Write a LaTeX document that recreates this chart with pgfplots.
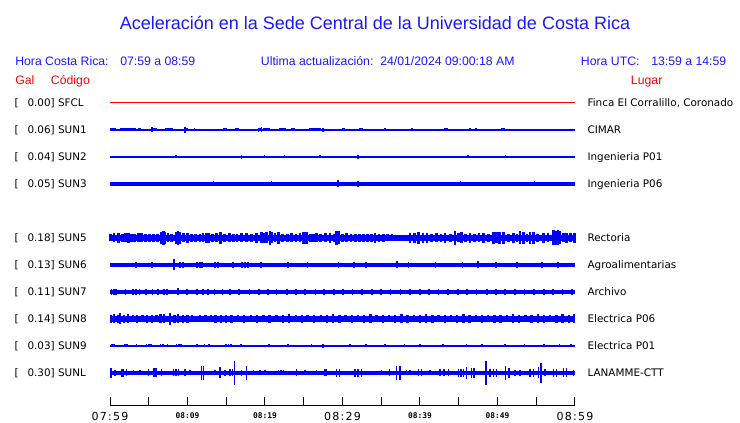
\documentclass[border=0pt]{standalone}
\usepackage{pgfplots}
\pgfplotsset{compat=1.18}
\usepackage{fontspec}
\setmainfont{DejaVu Sans}
\newfontfamily\hel{Liberation Sans}
\newfontfamily\dvw[LetterSpace=11]{DejaVu Sans}
\newfontfamily\dvm{DejaVu Sans Mono}
\definecolor{tb}{RGB}{0,0,255}
\definecolor{txb}{RGB}{25,25,255}
\definecolor{tr}{RGB}{255,0,0}
\newcommand\lf{\fontsize{7.8pt}{9pt}\selectfont}
\newcommand\hf{\hel\fontsize{9.2pt}{11pt}\selectfont}
\newcommand\tlb[1]{{\dvw\fontsize{8.3pt}{10pt}\selectfont #1}}
\newcommand\tls[1]{\raisebox{1.5pt}{\dvm\bfseries\fontsize{5.9pt}{7pt}\selectfont #1}}
\pgfplotsset{spk/.style={draw=none, mark=none, forget plot,
  error bars/.cd, y dir=both, y explicit, error mark=none,
  error bar style={draw=tb, line width=#1}}}
\begin{document}
\begin{tikzpicture}
\begin{scope}[x=0.75pt,y=-0.75pt]
\useasboundingbox (0,0) rectangle (740,423);
\node[anchor=base, text=txb, inner sep=0] at (375,29.8) {\hel\fontsize{13.5pt}{16pt}\selectfont Aceleración en la Sede Central de la Universidad de Costa Rica};
\begin{scope}[every node/.style={anchor=base west, inner sep=0, text=txb}]
\node at (15,66) {\hf Hora Costa Rica:};
\node at (120,66) {\hf 07:59 a 08:59};
\node at (260.7,66) {\hf Ultima actualización:};
\node at (380,66) {\hf 24/01/2024 09:00:18 AM};
\node at (580.7,66) {\hf Hora UTC:};
\node at (651,66) {\hf 13:59 a 14:59};
\node[text=tr] at (15,85) {\hf Gal};
\node[text=tr] at (50.7,85) {\hf Código};
\node[text=tr] at (630.7,85) {\hf Lugar};
\end{scope}
\begin{scope}[every node/.style={anchor=base west, inner sep=0, text=black}]
\node at (14.3,107) {\lf [}; \node at (27.3,107) {\lf 0.00] SFCL}; \node at (587.3,107) {\lf Finca El Corralillo, Coronado};
\node at (14.3,134) {\lf [}; \node at (27.3,134) {\lf 0.06] SUN1}; \node at (587.3,134) {\lf CIMAR};
\node at (14.3,161) {\lf [}; \node at (27.3,161) {\lf 0.04] SUN2}; \node at (587.3,161) {\lf Ingenieria P01};
\node at (14.3,188) {\lf [}; \node at (27.3,188) {\lf 0.05] SUN3}; \node at (587.3,188) {\lf Ingenieria P06};
\node at (14.3,242) {\lf [}; \node at (27.3,242) {\lf 0.18] SUN5}; \node at (587.3,242) {\lf Rectoria};
\node at (14.3,269) {\lf [}; \node at (27.3,269) {\lf 0.13] SUN6}; \node at (587.3,269) {\lf Agroalimentarias};
\node at (14.3,296) {\lf [}; \node at (27.3,296) {\lf 0.11] SUN7}; \node at (587.3,296) {\lf Archivo};
\node at (14.3,323) {\lf [}; \node at (27.3,323) {\lf 0.14] SUN8}; \node at (587.3,323) {\lf Electrica P06};
\node at (14.3,350) {\lf [}; \node at (27.3,350) {\lf 0.03] SUN9}; \node at (587.3,350) {\lf Electrica P01};
\node at (14.3,377) {\lf [}; \node at (27.3,377) {\lf 0.30] SUNL}; \node at (587.3,377) {\lf LANAMME-CTT};
\end{scope}
\end{scope}
\begin{axis}[at={(82.5pt,-304.5pt)}, anchor=south west, scale only axis,
  width=348.75pt, height=235.5pt, xmin=0, xmax=60, ymin=-406, ymax=-92,
  clip=false, axis x line*=bottom, axis y line=none,
  axis line style={black, line width=0.75pt},
  xtick={0,5,...,60}, xtick align=inside, major tick length=6.75pt,
  every tick/.style={black, line width=0.75pt},
  xticklabels={\tlb{07:59},,\tls{08:09},,\tls{08:19},,\tlb{08:29},,\tls{08:39},,\tls{08:49},,\tlb{08:59}},
  xticklabel style={anchor=base, yshift=-10.6pt, inner sep=0}]
% SFCL
\addplot[tr, line width=0.75pt] coordinates {(0,-103) (60,-103)};
% SUN1
\addplot[tb, line width=0.9pt] coordinates {(0,-130) (60,-130)};
\addplot[spk=1.2pt] table[row sep=\\, x index=0, y expr=-130, y error index=1] {
0.06 1.5\\ 0.26 1.5\\ 0.45 1.5\\ 0.65 1.5\\ 1.07 1\\ 1.42 1.5\\ 1.68 1.5\\ 1.94 1.5\\ 2.19 1.5\\ 2.45 1.5\\
2.71 1.5\\ 2.97 1.5\\ 3.23 1.5\\ 3.74 1.5\\ 3.87 1.5\\ 4.86 1\\ 5.42 2.5\\ 5.68 1.5\\ 5.94 1.5\\ 6.36 1\\
6.67 1\\ 7.23 1.5\\ 7.48 1.5\\ 7.74 1.5\\ 8.0 1.5\\ 8.39 1\\ 8.68 1\\ 9.68 3\\ 9.94 1.5\\ 10.1 1\\
10.88 1.5\\ 11.26 1\\ 11.83 1\\ 12.68 1\\ 13.42 1\\ 14.19 1\\ 14.65 1.5\\ 14.84 1.5\\ 15.03 1.5\\ 15.7 1\\
16.26 1.5\\ 16.52 1.5\\ 18.41 1\\ 19.16 2\\ 19.35 1.5\\ 19.55 2.5\\ 19.81 1.5\\ 20.0 1.5\\ 20.26 1.5\\ 20.52 1.5\\
20.99 1\\ 21.42 1\\ 21.87 1.5\\ 22.06 1.5\\ 22.32 1.5\\ 22.58 1.5\\ 23.48 1.5\\ 23.74 1.5\\ 24.3 1\\ 25.29 1\\
25.81 1.5\\ 26.06 1.5\\ 26.32 1.5\\ 26.58 1.5\\ 26.84 1.5\\ 27.1 1.5\\ 27.52 2\\ 28.17 1\\ 28.52 1\\ 30.06 1.5\\
30.26 1.5\\ 30.88 1\\ 32.26 1.5\\ 32.5 1.5\\ 33.81 1\\ 35.48 1.5\\ 37.16 1\\ 38.97 1.5\\ 41.29 1\\ 43.23 1.5\\ 43.48 1.5\\
46.45 1.5\\ 47.23 1.5\\ 49.29 1\\ 50.58 1.5\\ 50.84 1.5\\ 53.03 1\\ 55.48 1\\ 58.06 1\\ 59.6 1\\
};
% SUN2
\addplot[tb, line width=1pt] coordinates {(0,-157) (60,-157)};
\addplot[spk=1pt] table[row sep=\\, x index=0, y expr=-157, y error index=1] {
8.52 1.5\\ 16.94 2\\ 19.9 1.5\\ 22.49 1.5\\ 27.1 1.5\\ 32.0 2\\ 46.2 1.5\\ 51.0 1.5\\
};
% SUN3
\addplot[tb, line width=2.6pt] coordinates {(0,-184) (60,-184)};
\addplot[spk=1pt] table[row sep=\\, x index=0, y expr=-184, y error index=1] {
13.33 2.5\\ 20.8 2.5\\ 29.42 3.5\\ 32.0 3\\ 45.2 2.5\\ 54.8 2.5\\
};
% SUN5
\addplot[tb, line width=4.8pt] coordinates {(0,-238) (60,-238)};
\addplot[spk=2pt] table[row sep=\\, x index=0, y expr=-238, y error index=1] {
0.06 3.5\\ 0.5 4.5\\ 1.07 5\\ 1.6 4\\ 2.0 4.5\\ 2.36 5\\ 2.8 4\\ 3.2 4\\ 3.66 4.5\\ 4.09 4.5\\
4.6 4\\ 5.1 4\\ 5.59 4.3\\ 6.1 4\\ 6.67 6\\ 6.88 7.3\\ 7.1 6\\ 7.5 4.5\\ 7.96 4\\ 8.52 6\\
8.77 7.3\\ 9.03 6\\ 9.5 4.5\\ 9.98 5\\ 10.5 4\\ 11.0 4\\ 11.61 4\\ 12.0 4.5\\ 12.39 5\\ 12.68 5\\
13.2 4\\ 13.7 4.5\\ 14.28 6\\ 14.8 4\\ 15.4 4.5\\ 15.91 4\\ 16.4 4\\ 17.0 4.5\\ 17.64 4.5\\ 18.3 4\\
18.93 5\\ 19.57 5.5\\ 19.9 5\\ 20.22 5.5\\ 20.65 6.7\\ 20.86 5.5\\ 21.3 4.5\\ 21.72 6\\ 22.3 4\\ 22.9 4\\
23.44 4.5\\ 24.0 4\\ 24.5 4.5\\ 24.95 6\\ 25.38 6\\ 25.9 4\\ 26.3 4\\ 26.67 4.5\\ 27.2 4\\ 27.8 4.5\\
28.39 5\\ 28.9 4\\ 29.25 7\\ 29.46 6.5\\ 30.0 4\\ 30.54 4.5\\ 31.1 4\\ 31.7 4\\ 32.2 4\\ 32.69 4\\
33.2 4\\ 33.7 4\\ 34.19 5\\ 34.7 4\\ 35.27 4\\ 35.8 3.5\\ 36.4 3.5\\ 38.7 5\\ 39.3 5\\ 39.8 6\\
40.4 5\\ 40.9 5\\ 41.5 4\\ 42.15 4.5\\ 42.7 4\\ 43.23 5\\ 43.9 4\\ 44.52 7\\ 45.0 4.5\\ 45.38 5.5\\
45.9 4\\ 46.45 5\\ 47.0 4\\ 47.6 4.5\\ 48.17 5\\ 48.8 4\\ 49.46 6\\ 49.9 5.5\\ 50.3 6\\ 50.75 6\\
51.4 4\\ 52.04 5\\ 52.5 4\\ 52.9 6.5\\ 53.33 6\\ 53.8 4\\ 54.19 6\\ 54.62 6\\ 55.2 4\\ 55.91 5\\
56.5 4.5\\ 57.2 7.5\\ 57.5 7\\ 57.8 7.5\\ 58.06 6.5\\ 58.5 4.5\\ 58.92 5\\ 59.4 4.5\\ 59.95 5\\
};
% SUN6
\addplot[tb, line width=3pt] coordinates {(0,-265) (60,-265)};
\addplot[spk=1.3pt] table[row sep=\\, x index=0, y expr=-265, y error index=1] {
3.35 2.7\\ 5.38 2.7\\ 8.26 5.5\\ 9.03 2.7\\ 9.46 2.7\\ 11.19 2.7\\ 11.6 2.7\\ 11.83 2.7\\ 13.55 2.7\\ 13.98 2.7\\
15.91 2.7\\ 17.0 3\\ 17.4 3\\ 17.85 3\\ 19.5 2.7\\ 23.0 3\\ 25.5 2.7\\ 29.5 2.7\\ 31.5 3\\ 33.0 2.7\\
37.0 3.5\\ 38.5 3\\ 42.0 2.7\\ 45.5 3\\ 47.5 3.5\\ 49.8 2.7\\ 52.5 3\\ 55.7 3\\ 57.8 2.7\\
};
% SUN7
\addplot[tb, line width=2.7pt] coordinates {(0,-292) (60,-292)};
\addplot[spk=1.3pt] table[row sep=\\, x index=0, y expr=-292, y error index=1] {
0.2 2.7\\ 0.5 2.7\\ 0.8 2.7\\ 2.0 2.7\\ 3.0 2.7\\ 3.4 2.7\\ 3.8 2.7\\ 4.6 2.7\\ 5.5 2.7\\ 6.2 2.7\\
7.0 2.7\\ 7.4 2.7\\ 8.8 3.5\\ 9.9 2.7\\ 11.2 2.7\\ 12.0 2.7\\ 12.6 2.7\\ 13.5 2.7\\ 14.5 2.7\\ 15.5 2.7\\
16.6 2.7\\ 18.0 2.7\\ 19.2 2.7\\ 20.4 2.7\\ 21.5 2.7\\ 22.8 2.7\\ 24.0 2.7\\ 25.2 3\\ 26.5 2.7\\ 27.6 2.7\\
28.9 2.7\\ 30.1 2.7\\ 31.3 3\\ 32.5 2.7\\ 33.8 2.7\\ 35.0 2.7\\ 36.2 2.7\\ 37.5 3\\ 38.7 2.7\\ 40.0 2.7\\
41.2 2.7\\ 42.4 2.7\\ 43.6 2.7\\ 44.9 3\\ 46.1 2.7\\ 47.3 2.7\\ 48.6 2.7\\ 49.8 2.7\\ 51.0 3\\ 52.3 2.7\\
53.5 2.7\\ 54.7 2.7\\ 56.0 2.7\\ 57.2 2.7\\ 58.4 3\\ 59.6 2.7\\
};
% SUN8
\addplot[tb, line width=3.9pt] coordinates {(0,-319) (60,-319)};
\addplot[spk=1.8pt] table[row sep=\\, x index=0, y expr=-319, y error index=1] {
0.1 4\\ 0.5 4.5\\ 1.0 4\\ 1.3 5.5\\ 1.8 4\\ 2.3 4.5\\ 3.0 3.5\\ 3.5 4\\ 4.2 3.5\\ 4.8 4\\
5.4 4\\ 6.0 3.5\\ 6.5 4.5\\ 7.0 4.5\\ 7.74 6\\ 8.3 4\\ 8.8 4.5\\ 9.4 4\\ 10.0 4\\ 10.6 3.5\\
11.6 3.5\\ 12.3 3.5\\ 13.0 3.5\\ 13.6 4\\ 14.3 4\\ 15.0 4\\ 15.7 4\\ 16.5 3.5\\ 17.3 4\\ 18.2 3.5\\
19.0 4\\ 19.8 3.5\\ 20.6 4\\ 21.5 3.5\\ 22.3 4\\ 23.1 4.5\\ 24.0 3.5\\ 24.8 4\\ 25.5 3.5\\ 26.3 4\\
27.2 3.5\\ 28.0 4\\ 28.8 4.5\\ 29.6 4\\ 30.4 3.5\\ 31.2 4\\ 32.0 3.5\\ 32.8 4\\ 33.6 4.5\\ 34.4 3.5\\
35.2 4\\ 36.0 3.5\\ 36.8 4\\ 37.6 4.5\\ 38.4 4\\ 39.2 3.5\\ 40.0 4\\ 40.8 4.5\\ 41.6 4\\ 42.4 3.5\\
43.2 4\\ 44.0 3.5\\ 44.8 4\\ 45.6 4.5\\ 46.4 4\\ 47.2 3.5\\ 48.0 4\\ 48.8 3.5\\ 49.6 4\\ 50.4 4\\
51.2 3.5\\ 52.0 4.5\\ 52.8 4\\ 53.6 3.5\\ 54.4 4\\ 55.2 4.5\\ 56.0 4\\ 56.8 3.5\\ 57.6 4\\ 58.4 4.5\\
59.2 4\\ 59.9 4.5\\
};
% SUN9
\addplot[tb, line width=0.9pt] coordinates {(0,-346) (60,-346)};
\addplot[spk=1.2pt] table[row sep=\\, x index=0, y expr=-346, y error index=1] {
0.2 1.5\\ 0.4 1.5\\ 0.6 1.5\\ 1.9 1.5\\ 2.2 1.5\\ 3.4 1.5\\ 4.7 1.5\\ 5.0 1.5\\ 5.3 1.5\\ 6.5 1.5\\
6.8 1.5\\ 7.4 1.5\\ 8.6 1.5\\ 8.9 1.5\\ 9.2 1.5\\ 11.2 1.5\\ 12.2 1.5\\ 12.8 1.5\\ 15.0 1.5\\ 15.3 1.5\\
15.6 1.5\\ 16.9 1.5\\ 20.5 1.5\\ 23.0 1.5\\ 26.0 1.5\\ 27.5 2\\ 31.0 1.5\\ 33.0 1.5\\ 35.5 1.5\\ 38.0 1.5\\
40.0 1.5\\ 43.0 1.5\\ 46.0 1.5\\ 48.0 1.5\\ 51.0 1.5\\ 53.5 1.5\\ 56.0 1.5\\ 58.0 1.5\\ 59.5 1.5\\
};
% SUNL
\addplot[tb, line width=2.6pt] coordinates {(0,-373) (60,-373)};
\addplot[spk=1.1pt] table[row sep=\\, x index=0, y expr=-373, y error index=1] {
0.13 5\\ 0.65 3\\ 1.5 4\\ 1.7 4\\ 2.15 3.5\\ 3.0 2.5\\ 3.87 2.5\\ 4.95 3.5\\ 5.59 4.5\\ 5.8 4.5\\
6.03 4.5\\ 6.67 3.5\\ 8.17 3.5\\ 8.5 3.5\\ 8.81 3.5\\ 9.68 3.5\\ 10.32 2.5\\ 11.83 6.7\\ 12.04 6.7\\ 13.55 2.5\\
14.19 5.5\\ 14.84 3\\ 15.48 3.5\\ 15.83 3.5\\ 16.04 11.7\\ 16.99 3\\ 17.64 7.3\\ 18.49 2.5\\ 19.35 2.5\\ 20.0 2.5\\
21.72 2.5\\ 22.05 2.5\\ 22.37 2.5\\ 24.09 3.5\\ 25.16 2.5\\ 26.67 2.5\\ 27.65 3.5\\ 27.87 3.5\\ 29.25 4\\ 29.59 4\\
31.61 4\\ 32.0 4\\ 32.48 4\\ 35.06 2.5\\ 36.04 3.5\\ 37.0 6.7\\ 37.42 6.7\\ 38.28 2.5\\ 38.71 2.5\\ 39.78 3.5\\
40.22 3.5\\ 41.29 2.5\\ 42.58 3.5\\ 43.1 3.5\\ 43.65 3.5\\ 44.95 4\\ 45.3 4\\ 45.59 4\\ 46.02 6\\ 46.67 5\\
46.97 5\\ 48.52 12\\ 49.03 4\\ 49.5 4\\ 49.9 4\\ 51.06 7\\ 51.48 5\\ 52.26 3\\ 52.9 3\\ 54.19 4\\
54.62 4\\ 55.27 5.5\\ 55.61 10\\ 56.13 3.5\\ 57.2 4\\ 57.64 4\\ 58.49 4.5\\ 58.92 4.5\\ 59.78 3\\
};
\end{axis}
\end{tikzpicture}
\end{document}
